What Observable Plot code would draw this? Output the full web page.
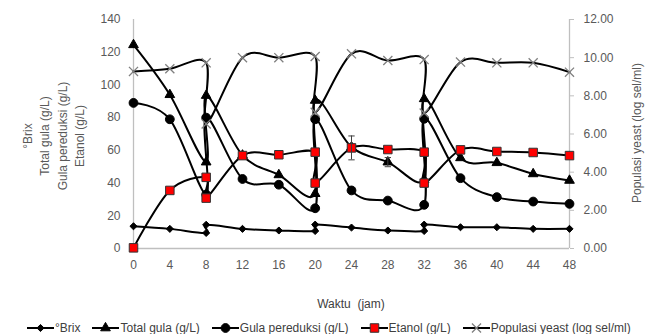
<!DOCTYPE html>
<html><head><meta charset="utf-8">
<script src="https://cdn.jsdelivr.net/npm/d3@7"></script>
<script src="https://cdn.jsdelivr.net/npm/@observablehq/plot@0.6"></script>
<style>
body{margin:0;background:#fff;}
#wrap{position:relative;width:666px;height:334px;font-family:"Liberation Sans",Arial,sans-serif;}
#legend{position:absolute;left:27px;top:321px;display:flex;gap:12px;font-size:12px;color:#404040;line-height:14px;white-space:nowrap;}
.item{display:flex;align-items:center;gap:1px;}
</style></head><body><div id="wrap"><div id="legend"></div></div><script>
// Waktu (jam) — fed-batch: at 8, 20, 32 h the first value is before feeding, the second after
const time = [0,4,8,8,12,16,20,20,24,28,32,32,36,40,44,48];
const brix     = [13.6,12,9.5,14.5,12,11,10.7,14.6,12.8,11,10.7,14.6,13,13,12,12];
const totalGula = [124.5,94,52.8,93.5,57,45,33.5,90.5,62,52.8,42,91.5,55.4,52.4,45.6,41.6];
const gulaPereduksi = [89,79,33,80,42.5,39,24.6,79,35.5,29.3,26.7,79.3,43,31.4,28.7,27.3];
const etanol   = [0.4,35.5,43.5,30.8,56.8,57.3,58.9,40,61.5,60.5,58.9,40,60.3,59.3,58.7,56.8];
const yeast    = [9.28,9.42,9.73,6.53,10.0,10.0,10.06,7.14,10.2,9.85,9.9,7.1,9.77,9.73,9.73,9.24];
// error bars
const errEtanol = {t:24, v:61.5, e:7.3};
const errTotal = {t:28, v:52.8, e:2.8};

const xTicks = [0,4,8,12,16,20,24,28,32,36,40,44,48];
const leftTicks = [0,20,40,60,80,100,120,140];
const rightTicks = [0,2,4,6,8,10,12];
const k = 140/12;

const series = [
  {name:"°Brix", values:brix, symbol:"diamond2", r:3.2, fill:"#000", stroke:"#000", right:false},
  {name:"Total gula (g/L)", values:totalGula, symbol:"triangle", r:3.6, fill:"#000", stroke:"#000", right:false},
  {name:"Gula pereduksi (g/L)", values:gulaPereduksi, symbol:"circle", r:4.4, fill:"#000", stroke:"#000", right:false},
  {name:"Etanol (g/L)", values:etanol, symbol:"square", r:4.8, fill:"#ff0000", stroke:"#333", right:false},
  {name:"Populasi yeast (log sel/ml)", values:yeast, symbol:"times", r:4.2, fill:"none", stroke:"#808080", right:true}
];

const marks = [
  Plot.ruleY([0], {stroke:"#bfbfbf", strokeWidth:1.3}),
  Plot.ruleX([0], {stroke:"#bfbfbf", strokeWidth:1.3}),
  Plot.ruleX([48], {stroke:"#bfbfbf", strokeWidth:1.3}),
  Plot.axisX({ticks:xTicks, tickSize:0, tickPadding:12, label:null}),
  Plot.axisY({ticks:leftTicks, tickSize:0, tickPadding:13, label:null}),
  Plot.axisY(rightTicks.map(d => d*k), {anchor:"right", tickSize:4, tickPadding:10, stroke:"#bfbfbf", label:null, tickFormat: d => (d/k).toFixed(2)})
];
for (const s of series) {
  const rows = time.map((t,i) => ({t, v: s.right ? s.values[i]*k : s.values[i]}));
  marks.push(Plot.line(rows, {x:"t", y:"v", curve:"cardinal", tension:0, stroke:"#000", strokeWidth:2}));
  marks.push(Plot.dot(rows, {x:"t", y:"v", symbol:s.symbol, r:s.r, fill:s.fill, stroke:s.stroke, strokeWidth: s.right ? 1.3 : 1}));
}
const errs = [errEtanol, errTotal];
marks.push(Plot.ruleX(errs, {x:"t", y1:d=>d.v-d.e, y2:d=>d.v+d.e, stroke:"#404040", strokeWidth:1}));
marks.push(Plot.link(errs, {x1:d=>d.t-0.35, x2:d=>d.t+0.35, y1:d=>d.v+d.e, y2:d=>d.v+d.e, stroke:"#404040", strokeWidth:1}));
marks.push(Plot.link(errs, {x1:d=>d.t-0.35, x2:d=>d.t+0.35, y1:d=>d.v-d.e, y2:d=>d.v-d.e, stroke:"#404040", strokeWidth:1}));

const chart = Plot.plot({
  width:666, height:334,
  marginLeft:133, marginRight:97, marginTop:19, marginBottom:86,
  x:{domain:[0,48]},
  y:{domain:[0,140]},
  style:{fontFamily:"'Liberation Sans', Arial, sans-serif", fontSize:"12px", color:"#595959", background:"#fff"},
  marks
});
const wrap = document.getElementById("wrap");
wrap.insertBefore(chart, wrap.firstChild);

const svg = d3.select(chart);
const leftLabel = ["°Brix","Total gula (g/L)","Gula pereduksi (g/L)","Etanol (g/L)"];
leftLabel.forEach((txt,i) => {
  const cx = 28 + i*17.3;
  svg.append("text").attr("transform",`translate(${cx},136) rotate(-90)`)
    .attr("text-anchor","middle").attr("dominant-baseline","central")
    .attr("fill","#595959").attr("font-size",12).text(txt);
});
svg.append("text").attr("transform","translate(637,133) rotate(-90)")
  .attr("text-anchor","middle").attr("dominant-baseline","central")
  .attr("fill","#595959").attr("font-size",12).text("Populasi yeast (log sel/ml)");
svg.append("text").attr("x",351).attr("y",304)
  .attr("text-anchor","middle").attr("dominant-baseline","central")
  .attr("fill","#404040").attr("font-size",12).text("Waktu  (jam)");

// legend
const legend = d3.select("#legend");
for (const s of series) {
  const it = legend.append("div").attr("class","item");
  const sv = it.append("svg").attr("width",27).attr("height",12);
  sv.append("line").attr("x1",0).attr("x2",27).attr("y1",6).attr("y2",6).attr("stroke","#000").attr("stroke-width",2);
  const sym = {diamond2:d3.symbolDiamond2, triangle:d3.symbolTriangle, circle:d3.symbolCircle, square:d3.symbolSquare, times:d3.symbolTimes}[s.symbol];
  sv.append("path").attr("transform","translate(13.5,6)")
    .attr("d", d3.symbol(sym, Math.PI*s.r*s.r)())
    .attr("fill", s.fill).attr("stroke", s.stroke).attr("stroke-width", s.right?1.3:1);
  it.append("span").text(s.name);
}
</script></body></html>
